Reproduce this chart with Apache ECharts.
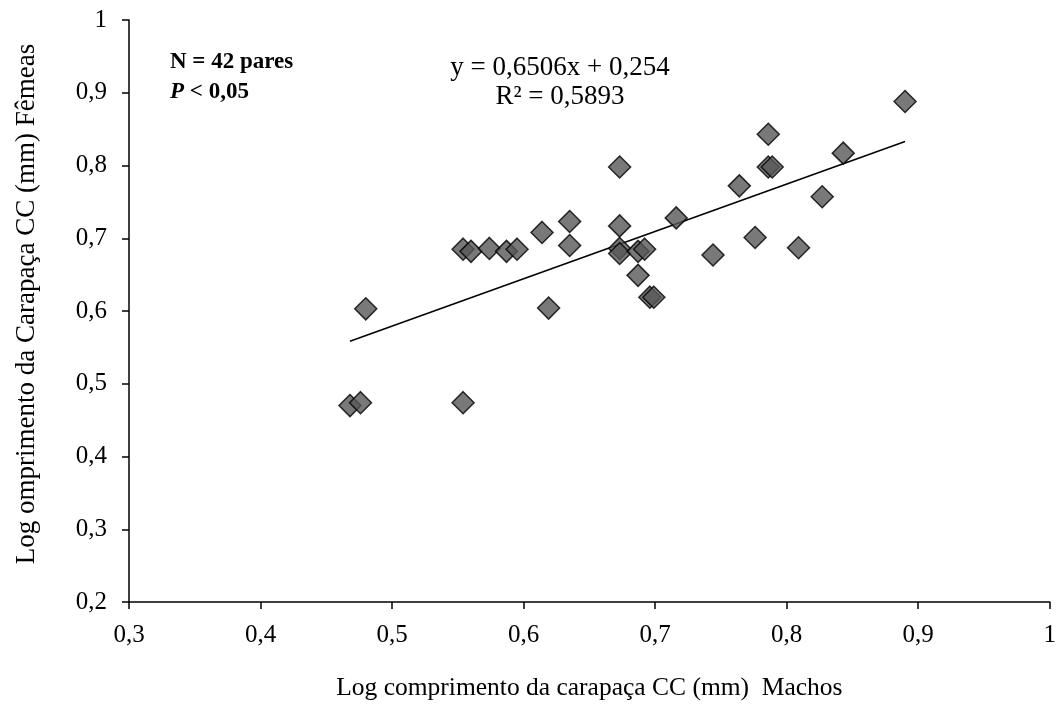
<!DOCTYPE html>
<html>
<head>
<meta charset="utf-8">
<script src="https://cdn.jsdelivr.net/npm/echarts@6/dist/echarts.min.js"></script>
<style>
  html, body { margin: 0; padding: 0; background: #fff; }
  #chart { width: 1059px; height: 706px; }
</style>
</head>
<body>
<div id="chart"></div>
<script>
// log carapace length, males (x) vs females (y)
var machos = [0.468, 0.476, 0.480, 0.554, 0.554, 0.560, 0.574, 0.587, 0.595, 0.614, 0.619,
              0.635, 0.635, 0.673, 0.673, 0.673, 0.673, 0.687, 0.692, 0.687, 0.696, 0.699,
              0.716, 0.744, 0.764, 0.776, 0.786, 0.786, 0.789, 0.809, 0.827, 0.843, 0.890];
var femeas = [0.470, 0.474, 0.603, 0.474, 0.685, 0.682, 0.686, 0.682, 0.685, 0.708, 0.604,
              0.723, 0.690, 0.798, 0.717, 0.686, 0.679, 0.682, 0.685, 0.649, 0.619, 0.619,
              0.728, 0.677, 0.772, 0.701, 0.843, 0.798, 0.798, 0.687, 0.757, 0.817, 0.888];

var slope = 0.6506, intercept = 0.254;

var pontos = machos.map(function (x, i) { return [x, femeas[i]]; });
var xMin = Math.min.apply(null, machos), xMax = Math.max.apply(null, machos);
var tendencia = [[xMin, slope * xMin + intercept], [xMax, slope * xMax + intercept]];

function virgula(v) { return String(+v.toFixed(1)).replace('.', ','); }

var fonte = '"Liberation Serif", "Times New Roman", serif';

echarts.init(document.getElementById('chart')).setOption({
    animation: false,
    textStyle: { fontFamily: fonte, color: '#000' },
    grid: { left: 129, right: 4, top: 20, bottom: 100 },
    xAxis: {
        type: 'value',
        min: 0.3, max: 1, interval: 0.1,
        name: 'Log comprimento da carapaça CC (mm)  Machos',
        nameLocation: 'middle',
        nameGap: 73,
        nameTextStyle: { fontFamily: fonte, fontSize: 25.5, color: '#000' },
        splitLine: { show: false },
        axisLine: { lineStyle: { color: '#000', width: 1.5 } },
        axisTick: { inside: false, length: 7, lineStyle: { color: '#000', width: 1.5 } },
        axisLabel: { fontFamily: fonte, fontSize: 25, color: '#000', margin: 21, formatter: virgula }
    },
    yAxis: {
        type: 'value',
        min: 0.2, max: 1, interval: 0.1,
        name: 'Log omprimento da Carapaça CC (mm) Fêmeas',
        nameLocation: 'middle',
        nameGap: 89,
        nameTextStyle: { fontFamily: fonte, fontSize: 27, color: '#000', padding: [0, 0, 0, 14] },
        splitLine: { show: false },
        axisLine: { lineStyle: { color: '#000', width: 1.5 } },
        axisTick: { inside: false, length: 7, lineStyle: { color: '#000', width: 1.5 } },
        axisLabel: { fontFamily: fonte, fontSize: 25, color: '#000', margin: 22, formatter: virgula }
    },
    graphic: [
        { type: 'text', left: 170, top: 51, style: { text: 'N = 42 pares', font: 'bold 23px ' + fonte, fill: '#000' } },
        { type: 'text', left: 170, top: 81, style: { text: '{i|P} < 0,05', font: 'bold 23px ' + fonte, fill: '#000',
            rich: { i: { fontFamily: fonte, fontSize: 23, fontWeight: 'bold', fontStyle: 'italic' } } } },
        { type: 'text', x: 560, y: 54, style: { text: 'y = 0,6506x + 0,254', font: '27px ' + fonte, fill: '#000', align: 'center' } },
        { type: 'text', x: 560, y: 83, style: { text: 'R² = 0,5893', font: '27px ' + fonte, fill: '#000', align: 'center' } }
    ],
    series: [
        {
            type: 'line',
            data: tendencia,
            symbol: 'none',
            lineStyle: { color: '#000', width: 1.5 },
            z: 3
        },
        {
            type: 'scatter',
            data: pontos,
            symbol: 'diamond',
            symbolSize: 22,
            itemStyle: { color: '#575757', borderColor: '#000', borderWidth: 1.5 },
            z: 4
        }
    ]
});
</script>
</body>
</html>
